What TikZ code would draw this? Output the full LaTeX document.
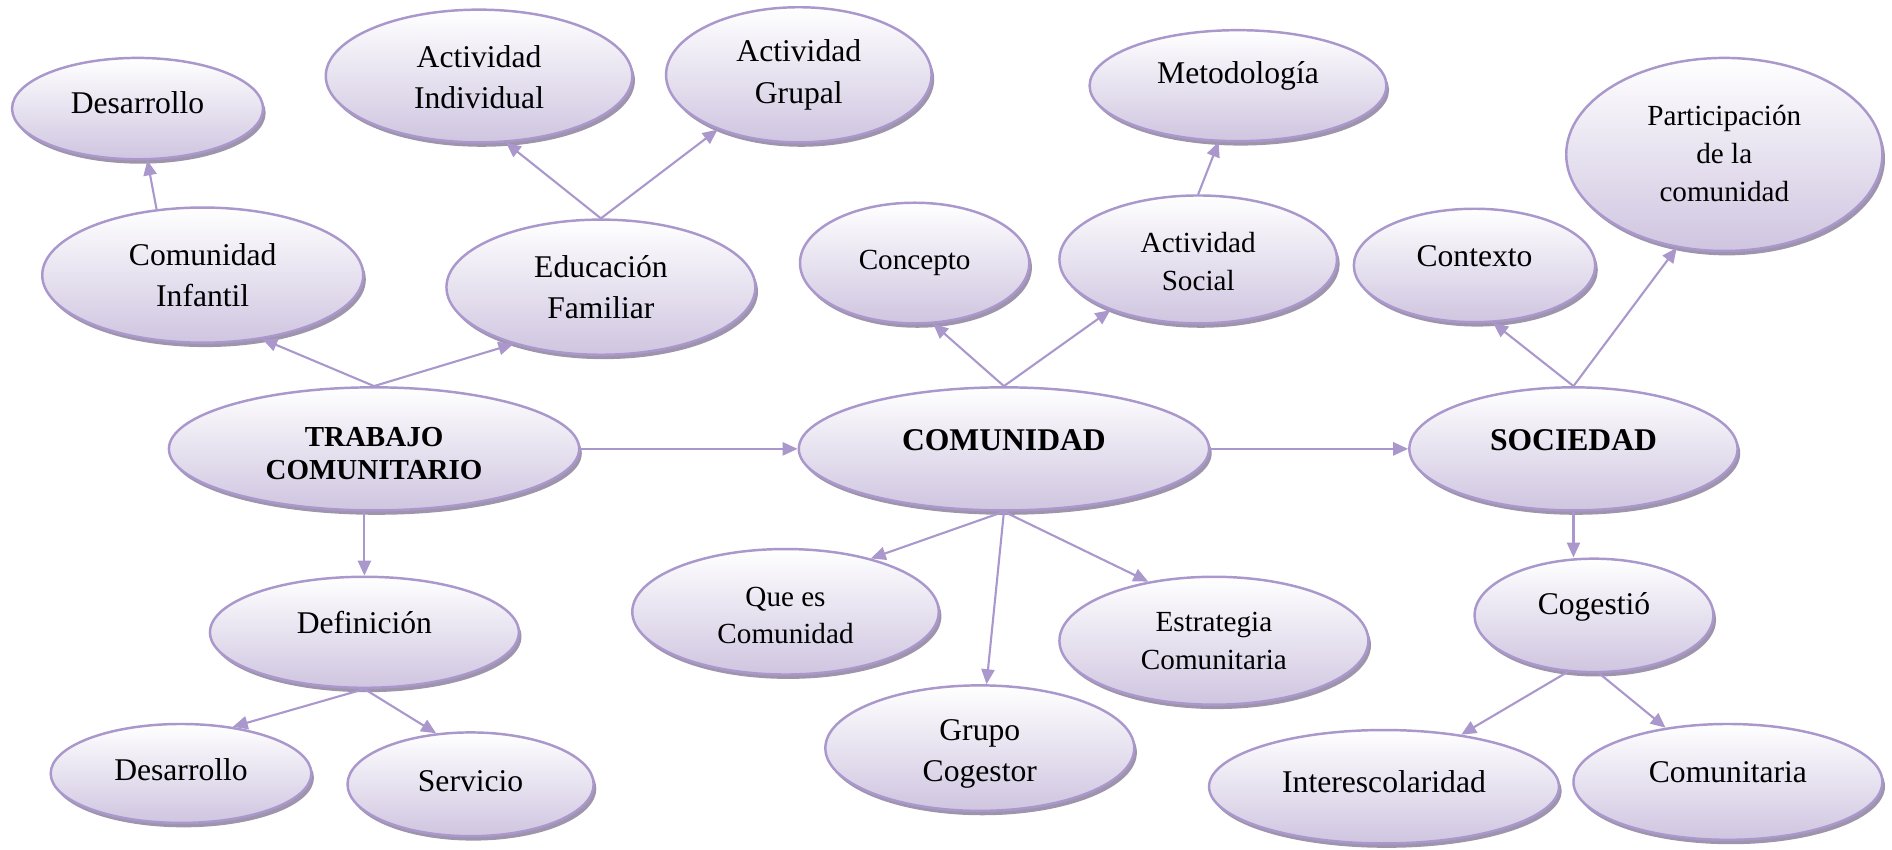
\documentclass[tikz,border=0pt]{standalone}
\usepackage{fontspec}
\setmainfont{Liberation Serif}
\usetikzlibrary{shapes.geometric,arrows.meta,shadows}
\definecolor{lavline}{HTML}{AA98CC}
\definecolor{lavfill}{HTML}{CFC5E0}
\definecolor{lavshadow}{HTML}{9E94AC}
\begin{document}
\begin{tikzpicture}
[x=0.024132cm, y=-0.024132cm,
  nodedecorate/.style={shape=ellipse, draw=lavline, line width=1.4pt,
    top color=white, bottom color=lavfill, inner sep=0pt,
    drop shadow={shadow xshift=1.5pt, shadow yshift=-2.5pt,
      fill=lavshadow, opacity=1}},
  linedecorate/.style={-{Triangle[length=8.5pt,width=7.5pt]}, draw=lavline,
    line width=1.2pt},
  nf/.style={font=\fontsize{18}{23.5}\selectfont, align=center},
  sf/.style={font=\fontsize{16.6}{21.5}\selectfont, align=center},
  bf/.style={font=\fontsize{16.5}{19}\selectfont\bfseries, align=center},
  bfl/.style={font=\fontsize{18}{21}\selectfont\bfseries, align=center}]
\useasboundingbox (0,0) rectangle (1568,704);
%% nodes or vertices
\foreach \nodename/\x/\y/\w/\h/\dy/\fs/\txt in {
  desa/114/90/208/84/5/nf/Desarrollo,
  ci/168/228/266/112/0/nf/Comunidad\\Infantil,
  ef/498/238/256/112/0/nf/Educación\\Familiar,
  ai/397/63/254/110/-1/nf/Actividad\\Individual,
  ag/662/62/220/112/0/nf/Actividad\\Grupal,
  tc/310/372/340/102/-4/bf/TRABAJO\\COMUNITARIO,
  def/302/524/256/92/8/nf/Definición,
  desb/150/641/216/82/3/nf/Desarrollo,
  serv/390/650/204/86/3/nf/Servicio,
  com/832/372/340/102/7/bfl/COMUNIDAD,
  conc/758/218/190/100/0/sf/Concepto,
  asoc/993/215/230/106/-2/sf/Actividad\\Social,
  met/1026/71/246/92/8/nf/Metodología,
  que/651/507/254/104/-3/sf/Que es\\Comunidad,
  gru/812/620/256/104/-5/nf/Grupo\\Cogestor,
  est/1006/531/256/106/0/sf/Estrategia\\Comunitaria,
  soc/1304/372/272/102/7/bfl/SOCIEDAD,
  ctx/1222/220/200/94/8/nf/Contexto,
  par/1429/128/262/160/1/sf/Participación\\de la\\comunidad,
  cog/1321/510/198/94/7/nf/Cogestió,
  inter/1147/652/290/94/4/nf/Interescolaridad,
  cmt/1432/648/256/96/8/nf/Comunitaria}
{
  \node (\nodename) at (\x,\y) [nodedecorate,
    minimum width=\w*0.024132cm, minimum height=\h*0.024132cm] {};
  \node (\nodename txt) at (\x,{\y-\dy}) [\fs] {\txt};
}
%% edges or lines
\path
\foreach \startnode/\endnode in {tc.north/ci.-47, tc.north/ef.-147,
  ci.125/desa, ef.north/ai.-68, ef.north/ag.-146, tc.east/com.west,
  def.south/desb.42, def.south/serv.124, com.north/conc.-73,
  com.north/asoc.-150, asoc.north/met.-109, com.south/que.32,
  com.south/gru.84, com.south/est.138, com.east/soc.west,
  soc.north/ctx.-72, soc.north/par.-117, cog.-115/inter.34, cog.-85/cmt.139}
{
  (\startnode) edge[linedecorate] (\endnode)
};
\draw[linedecorate] (def.north |- tc.south) -- (def.north);
\draw[linedecorate] (soc.south) -- (soc.south |- cog.north);
\end{tikzpicture}
\end{document}
